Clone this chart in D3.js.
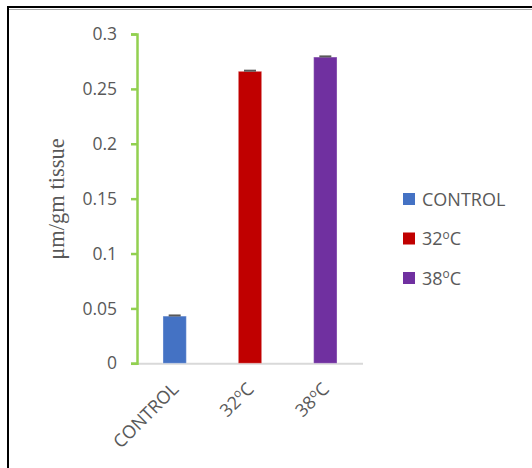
<!DOCTYPE html>
<html><head><meta charset="utf-8">
<script src="https://cdn.jsdelivr.net/npm/d3@7"></script>
<style>body{margin:0;background:#fff}</style>
</head><body>
<script>
const categories = ["CONTROL", "32", "38"];
const labels = [["CONTROL"], ["32", "o", "C"], ["38", "o", "C"]];
const values = [0.043, 0.266, 0.279];
const errors = [0.0015, 0.0015, 0.0015];
const colors = ["#4472C4", "#C00000", "#7030A0"];
const yTicks = [0, 0.05, 0.1, 0.15, 0.2, 0.25, 0.3];

const W = 532, H = 468;
const svg = d3.select("body").append("svg").attr("width", W).attr("height", H);
svg.append("rect").attr("width", W).attr("height", H).attr("fill", "#fff");
// outer border
svg.append("rect").attr("x", 8).attr("y", 7).attr("width", 600).attr("height", 600)
  .attr("fill", "none").attr("stroke", "#000").attr("stroke-width", 2);
svg.append("line").attr("x1", 9).attr("x2", W).attr("y1", 9.5).attr("y2", 9.5)
  .attr("stroke", "#aaa").attr("stroke-width", 1);

const x0 = 137, x1 = 363, yTop = 34, yBot = 363.3;
const x = d3.scaleBand().domain(categories).range([x0, x1]).paddingInner(0.69).paddingOuter(0.345);
const y = d3.scaleLinear().domain([0, 0.3]).range([yBot, yTop]);

const font = "'Open Sans', sans-serif";

// x axis baseline
svg.append("line").attr("x1", x0).attr("x2", x1).attr("y1", yBot + 0.5).attr("y2", yBot + 0.5)
  .attr("stroke", "#d9d9d9").attr("stroke-width", 2);

// y axis
const yAxis = d3.axisLeft(y).tickValues(yTicks).tickSize(6).tickPadding(14).tickFormat(d => String(d));
const gy = svg.append("g").attr("transform", `translate(${x0},0)`).call(yAxis);
gy.select(".domain").attr("stroke", "#92D050").attr("stroke-width", 2.5);
gy.selectAll(".tick line").attr("stroke", "#92D050").attr("stroke-width", 2.5);
gy.selectAll(".tick text").attr("fill", "#595959").attr("font-family", font).attr("font-size", 17.5);

// bars
svg.selectAll("rect.bar").data(values).enter().append("rect").attr("class", "bar")
  .attr("x", (d, i) => x(categories[i])).attr("width", x.bandwidth())
  .attr("y", d => y(d)).attr("height", d => yBot - y(d))
  .attr("fill", (d, i) => colors[i]).attr("stroke", "rgba(255,255,255,0.35)").attr("stroke-width", 1);

// error caps
svg.selectAll("rect.err").data(values).enter().append("rect").attr("class", "err")
  .attr("x", (d, i) => x(categories[i]) + x.bandwidth() / 2 - 6).attr("width", 12)
  .attr("y", (d, i) => y(d + errors[i])).attr("height", (d, i) => Math.max(2, y(d) - y(d + errors[i])))
  .attr("fill", "#595959");

function addLabel(t, parts, fs) {
  t.append("tspan").text(parts[0]);
  if (parts.length > 1) {
    t.append("tspan").attr("font-size", fs * 0.66).attr("dy", -fs * 0.36).text(parts[1]);
    t.append("tspan").attr("dy", fs * 0.36).text(parts[2]);
  }
}

// x labels
const gx = svg.append("g");
categories.forEach((c, i) => {
  const cx = x(c) + x.bandwidth() / 2;
  const t = gx.append("text").attr("transform", `translate(${cx + 5},${yBot + 27}) rotate(-45)`)
    .attr("text-anchor", "end").attr("fill", "#595959")
    .attr("font-family", font).attr("font-size", 18);
  addLabel(t, labels[i], 18);
});

// y label
svg.append("text").attr("transform", "translate(64,199) rotate(-90)").attr("text-anchor", "middle")
  .attr("fill", "#595959").attr("font-family", "'Liberation Serif', 'Times New Roman', serif").attr("font-size", 22.5)
  .text("μm/gm tissue");

// legend
const lg = svg.append("g");
categories.forEach((c, i) => {
  const cy = 199 + i * 39.5;
  lg.append("rect").attr("x", 403).attr("y", cy - 6).attr("width", 12).attr("height", 12).attr("fill", colors[i]);
  const t = lg.append("text").attr("x", 422).attr("y", cy + 6.5).attr("fill", "#595959")
    .attr("font-family", font).attr("font-size", 18);
  addLabel(t, labels[i], 18);
});
</script>
</body></html>
